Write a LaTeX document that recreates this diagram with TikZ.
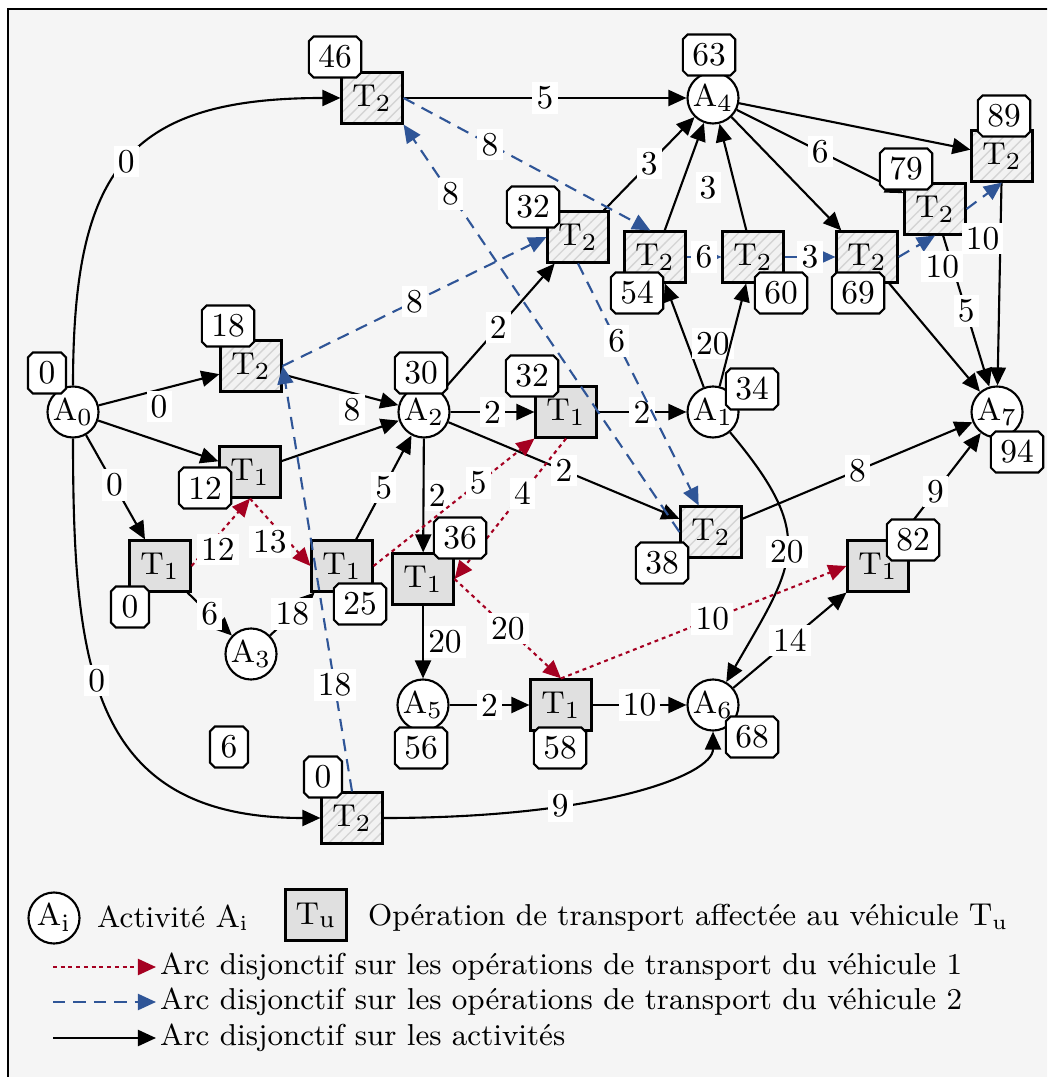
\documentclass[tikz,border=0pt]{standalone}
\usetikzlibrary{arrows.meta,shapes.misc,patterns}
\definecolor{fond}{HTML}{F5F5F5}
\definecolor{grisun}{HTML}{E0E0E0}
\definecolor{grisdeux}{HTML}{F2F2F2}
\definecolor{hachure}{HTML}{D4D4D4}
\definecolor{rougev}{HTML}{A50021}
\definecolor{bleuv}{HTML}{2F5597}

\begin{document}
\begin{tikzpicture}[x=0.01cm, y=-0.01cm, font=\fontsize{9.5}{11}\selectfont,
  act/.style={circle, draw, fill=white, line width=0.6pt, minimum size=0.51cm, inner sep=0pt},
  opun/.style={draw, fill=grisun, line width=0.6pt, minimum width=0.61cm, minimum height=0.51cm, inner sep=0pt},
  opdeux/.style={draw, line width=0.6pt, preaction={fill=grisdeux}, pattern=north east lines, pattern color=hachure, minimum width=0.61cm, minimum height=0.51cm, inner sep=0pt},
  tdate/.style={chamfered rectangle, chamfered rectangle xsep=0.7pt, chamfered rectangle ysep=0.7pt, draw, fill=white, line width=0.6pt, minimum width=0.38cm, minimum height=0.41cm, inner xsep=2pt, inner ysep=0pt},
  fl/.style={line width=0.6pt, -{Triangle[length=1.8mm,width=1.6mm]}},
  flun/.style={fl, rougev, dash pattern=on 1.1pt off 1.1pt},
  fldeux/.style={fl, bleuv, dash pattern=on 3.5pt off 2.3pt},
  poids/.style={fill=white, text=black, inner sep=1.2pt},
  leg/.style={anchor=west, inner xsep=1pt, font=\fontsize{8.6}{10}\selectfont}]

% cadre
\useasboundingbox (0,0) rectangle (1047,1077);
\clip (0,0) rectangle (1047,1077);
\fill[white] (0,0) rectangle (1047,1077);
\draw[line width=0.8pt, fill=fond] (8,9) rectangle (1080,1100);

% activites
\node[act] (A0) at (73,412) {$\mathrm{A}_0$};
\node[act] (A1) at (713,412) {$\mathrm{A}_1$};
\node[act] (A2) at (424,412) {$\mathrm{A}_2$};
\node[act] (A3) at (251,654) {$\mathrm{A}_3$};
\node[act] (A4) at (713,98) {$\mathrm{A}_4$};
\node[act] (A5) at (423,705) {$\mathrm{A}_5$};
\node[act] (A6) at (713,705) {$\mathrm{A}_6$};
\node[act] (A7) at (997,412) {$\mathrm{A}_7$};

% operations du vehicule T1
\node[opun] (u0) at (160,566) {$\mathrm{T}_1$};
\node[opun] (u12) at (250,472) {$\mathrm{T}_1$};
\node[opun] (u25) at (342,566) {$\mathrm{T}_1$};
\node[opun] (u36) at (423,579) {$\mathrm{T}_1$};
\node[opun] (u32) at (566,412) {$\mathrm{T}_1$};
\node[opun] (u58) at (561,705) {$\mathrm{T}_1$};
\node[opun] (u82) at (878,566) {$\mathrm{T}_1$};

% operations du vehicule T2
\node[opdeux] (d0) at (352,818) {$\mathrm{T}_2$};
\node[opdeux] (d18) at (251,366) {$\mathrm{T}_2$};
\node[opdeux] (d46) at (372,98) {$\mathrm{T}_2$};
\node[opdeux] (d32) at (578,237) {$\mathrm{T}_2$};
\node[opdeux] (d38) at (711,532) {$\mathrm{T}_2$};
\node[opdeux] (d54) at (655,257) {$\mathrm{T}_2$};
\node[opdeux] (d60) at (753,257) {$\mathrm{T}_2$};
\node[opdeux] (d69) at (867,257) {$\mathrm{T}_2$};
\node[opdeux] (d79) at (935,209) {$\mathrm{T}_2$};
\node[opdeux] (d89) at (1002,156) {$\mathrm{T}_2$};

% arcs sur les activites
\draw[fl] (A0) to[out=90,in=180,looseness=1.4] node[poids]{0} (d46);
\draw[fl] (A0) -- node[poids,below]{0} (d18);
\draw[fl] (A0) -- (u12);
\draw[fl] (A0) -- node[poids,pos=.48]{0} (u0);
\draw[fl] (A0) to[out=-90,in=180,looseness=1.3] node[poids,pos=.42]{0} (d0);
\draw[fl] (d18) -- node[poids,below,pos=.6]{8} (A2);
\draw[fl] (u12) -- (A2);
\draw[fl] (u25) -- node[poids]{5} (A2);
\draw[fl] (A2) -- node[poids,right]{2} (u36);
\draw[fl] (A2) -- node[poids]{2} (d32);
\draw[fl] (A2) -- node[poids]{2} (u32);
\draw[fl] (A2) -- node[poids]{2} (d38);
\draw[fl] (u32) -- node[poids]{2} (A1);
\draw[fl] (u36) -- node[poids,right]{20} (A5);
\draw[fl] (A5) -- node[poids]{2} (u58);
\draw[fl] (u58) -- node[poids]{10} (A6);
\draw[fl] (d0) .. controls +(250,0) and +(0,70) .. (A6) node[poids,pos=.32]{9};
\draw[fl] (A1) to[out=-50,in=60,looseness=1.4] node[poids]{20} (A6);
\draw[fl] (A6) -- node[poids]{14} (u82);
\draw[fl] (u82) -- node[poids,pos=.45]{9} (A7);
\draw[fl] (d38) -- node[poids]{8} (A7);
\draw[fl] (u0) -- node[poids]{6} (A3);
\draw[fl] (A3) -- node[poids]{18} (u25);
\draw[fl] (d46) -- node[poids]{5} (A4);
\draw[fl] (d32) -- node[poids]{3} (A4);
\draw[fl] (d54) -- node[poids,pos=.4,right=4pt]{3} (A4);
\draw[fl] (d60) -- (A4);
\draw[fl] (A1) -- node[poids,pos=.42,right=1pt]{20} (d54);
\draw[fl] (A1) -- (d60);
\draw[fl] (A4) -- (d69);
\draw[fl] (A4) -- node[poids]{6} (d79);
\draw[fl] (A4) -- (d89);
\draw[fl] (d69) -- (A7);
\draw[fl] (d79) -- node[poids]{5} (A7);
\draw[fl] (d89) -- (A7);

% arcs disjonctifs du vehicule 1
\draw[flun] (u0.east) -- node[poids,pos=.45,yshift=-4pt]{12} (u12.south);
\draw[flun] (u12.south) -- node[poids,pos=.33,yshift=-6pt]{13} (u25.west);
\draw[flun] (u25.east) -- node[poids,pos=.65]{5} (u32.south west);
\draw[flun] (u32.south) -- node[poids,pos=.39]{4} (u36.east);
\draw[flun] (u36.east) -- node[poids]{20} (u58.north);
\draw[flun] (u58.north) -- node[poids,pos=.53]{10} (u82.west);

% arcs disjonctifs du vehicule 2
\draw[fldeux] (d0.north) -- node[poids,pos=.25]{18} (d18.east);
\draw[fldeux] (d18.east) -- node[poids]{8} (d32.west);
\draw[fldeux] (d32.south) -- node[poids,pos=.32]{6} (d38.115);
\draw[fldeux] (d38.west) -- node[poids,pos=.83]{8} (d46.south east);
\draw[fldeux] (d46.east) -- node[poids,pos=.35]{8} (d54.100);
\draw[fldeux] (d54) -- node[poids]{6} (d60);
\draw[fldeux] (d60) -- node[poids]{3} (d69);
\draw[fldeux] (d69.east) -- node[poids,below right=1pt]{10} (d79.south);
\draw[fldeux] (d79.east) -- node[poids,pos=.45,below=7pt]{10} (d89.south);

% dates de debut
\node[tdate] (tA0) at (47,373) {0};
\node[tdate] (t46) at (335,57) {46};
\node[tdate] (tA4) at (709,55) {63};
\node[tdate] (t89) at (1004,116) {89};
\node[tdate] (t79) at (906,169) {79};
\node[tdate] (t69) at (858,293) {69};
\node[tdate] (t60) at (781,293) {60};
\node[tdate] (t54) at (637,293) {54};
\node[tdate] (t32h) at (533,207) {32};
\node[tdate] (t18) at (228,326) {18};
\node[tdate] (tA2) at (421,373) {30};
\node[tdate] (t12) at (205,488) {12};
\node[tdate] (t0g) at (130,607) {0};
\node[tdate] (t25) at (360,604) {25};
\node[tdate] (t36) at (460,538) {36};
\node[tdate] (tA5) at (421,748) {56};
\node[tdate] (t58) at (560,748) {58};
\node[tdate] (tA6) at (752,737) {68};
\node[tdate] (t32m) at (532,376) {32};
\node[tdate] (tA1) at (752,389) {34};
\node[tdate] (t38) at (662,563) {38};
\node[tdate] (tA7) at (1017,452) {94};
\node[tdate] (t82) at (913,540) {82};
\node[tdate] (t0b) at (323,777) {0};
\node[tdate] (tA3) at (229,747) {6};

% legende
\node[act] (lA) at (54,918) {$\mathrm{A}_\mathrm{i}$};
\node[leg] (lAt) at (93,918) {Activité $\mathrm{A}_\mathrm{i}$};
\node[opun] (lT) at (316,915) {$\mathrm{T}_\mathrm{u}$};
\node[leg] (lTt) at (364,918) {Opération de transport affectée au véhicule $\mathrm{T}_\mathrm{u}$};
\coordinate (lr) at (53,967);
\node[leg] (lrt) at (156,967) {Arc disjonctif sur les opérations de transport du véhicule 1};
\draw[flun] (lr) -- (lrt.west);
\coordinate (lb) at (53,1002);
\node[leg] (lbt) at (156,1002) {Arc disjonctif sur les opérations de transport du véhicule 2};
\draw[fldeux] (lb) -- (lbt.west);
\coordinate (ln) at (53,1038);
\node[leg] (lnt) at (156,1038) {Arc disjonctif sur les activités};
\draw[fl] (ln) -- (lnt.west);

\end{tikzpicture}
\end{document}
